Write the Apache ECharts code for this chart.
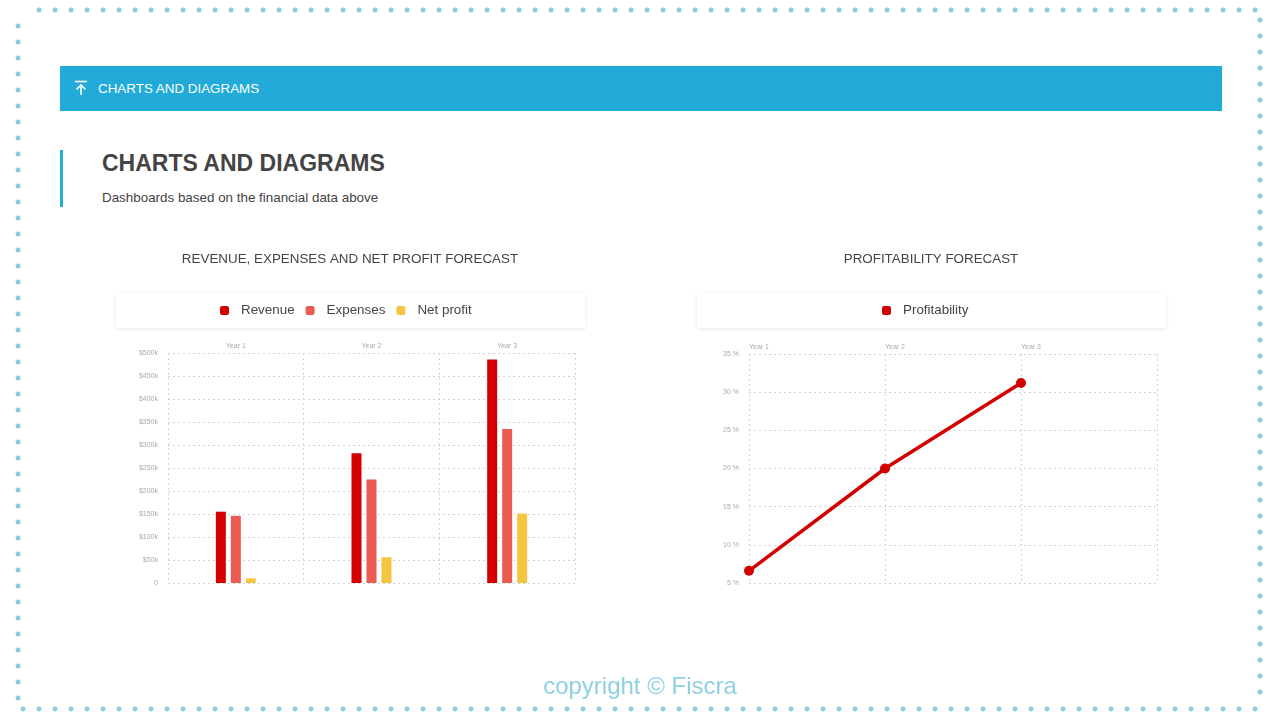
<!DOCTYPE html>
<html>
<head>
<meta charset="utf-8">
<script src="https://cdn.jsdelivr.net/npm/echarts@6/dist/echarts.min.js"></script>
<style>
  html, body { margin: 0; padding: 0; background: #fff; }
  body { width: 1280px; height: 720px; position: relative; overflow: hidden;
         font-family: "Liberation Sans", Arial, Helvetica, sans-serif; }
  .dots-h { position: absolute; height: 6px;
            background: radial-gradient(circle, #8fcbe0 2.2px, rgba(255,255,255,0) 2.8px);
            background-size: 16px 6px; }
  .dots-v { position: absolute; width: 6px;
            background: radial-gradient(circle, #8fcbe0 2.2px, rgba(255,255,255,0) 2.8px);
            background-size: 6px 16px; }
  .topbar { position: absolute; left: 60px; top: 66px; width: 1162px; height: 45px;
            background: #22aad9; color: #fff; font-size: 13.4px; }
  .topbar span { position: absolute; left: 38px; top: 15px; }
  .topbar svg { position: absolute; left: 14px; top: 14px; }
  .section-bar { position: absolute; left: 60px; top: 150px; width: 3px; height: 57px; background: #22aad9; }
  .section-title { position: absolute; left: 102px; top: 150px; font-size: 23px; font-weight: bold; color: #444; }
  .section-sub { position: absolute; left: 102px; top: 190px; font-size: 13.4px; color: #444; }
  .legend-box { position: absolute; height: 35px; top: 293px; background: #fff;
                box-shadow: 0 1px 4px rgba(0,0,0,0.10); }
  .copyright { position: absolute; left: 0; width: 1280px; top: 672px; text-align: center;
               font-size: 24px; color: #8fd0e2; }
  #chart { position: absolute; left: 0; top: 0; width: 1280px; height: 720px; }
</style>
</head>
<body>
<div class="dots-h" style="left:31px; top:7px; width:1232px;"></div>
<div class="dots-h" style="left:15px; top:706px; width:1248px;"></div>
<div class="dots-v" style="left:15px; top:18px; height:688px;"></div>
<div class="dots-v" style="left:1257px; top:12px; height:694px;"></div>

<div class="topbar">
  <svg width="14" height="16" viewBox="0 0 14 16">
    <line x1="1" y1="1.5" x2="13" y2="1.5" stroke="#fff" stroke-width="1.6"/>
    <line x1="7" y1="5" x2="7" y2="15" stroke="#fff" stroke-width="1.6"/>
    <polyline points="2.5,9.5 7,5 11.5,9.5" fill="none" stroke="#fff" stroke-width="1.6"/>
  </svg>
  <span>CHARTS AND DIAGRAMS</span>
</div>
<div class="section-bar"></div>
<div class="section-title">CHARTS AND DIAGRAMS</div>
<div class="section-sub">Dashboards based on the financial data above</div>

<div class="legend-box" style="left:116px; width:469px;"></div>
<div class="legend-box" style="left:697px; width:469px;"></div>

<div id="chart"></div>

<div class="copyright">copyright © Fiscra</div>

<script>
// bar chart data (USD)
var years = ['Year 1', 'Year 2', 'Year 3'];
var revenue = [155000, 282000, 486000];
var expenses = [146000, 225000, 335000];
var netProfit = [10000, 56000, 151000];

// line chart data (%)
var lineYears = ['Year 1', 'Year 2', 'Year 3', ''];
var profitability = [6.6, 20, 31.2];

var font = '"Liberation Sans", Arial, Helvetica, sans-serif';
var gridLine = { show: true, lineStyle: { color: '#d4d4d4', type: [2, 3], width: 1 } };
var tinyLabel = { color: '#aaa', fontSize: 7, fontFamily: font };
var legendText = { fontSize: 13.4, color: '#444', fontFamily: font, padding: [0, 0, 0, 7] };
var titleText = { fontSize: 13.4, fontWeight: 'normal', color: '#444', fontFamily: font };

var chart = echarts.init(document.getElementById('chart'), null, { renderer: 'canvas' });

chart.setOption({
  backgroundColor: 'transparent',
  animation: false,
  textStyle: { fontFamily: font },
  title: [
    { text: 'REVENUE, EXPENSES AND NET PROFIT FORECAST', left: 345, top: 248, textAlign: 'center',
      textStyle: titleText },
    { text: 'PROFITABILITY FORECAST', left: 926, top: 248, textAlign: 'center',
      textStyle: titleText }
  ],
  legend: [
    { data: ['Revenue', 'Expenses', 'Net profit'], left: 215, top: 299,
      icon: 'roundRect', itemWidth: 9, itemHeight: 9, itemGap: 11,
      textStyle: legendText },
    { data: ['Profitability'], left: 877, top: 299, icon: 'roundRect',
      itemWidth: 9, itemHeight: 9, textStyle: legendText }
  ],
  grid: [
    { left: 168, right: 705, top: 353, bottom: 137 },
    { left: 749, right: 123, top: 354, bottom: 137 }
  ],
  xAxis: [
    { type: 'category', gridIndex: 0, data: years, position: 'top',
      axisLine: { show: false }, axisTick: { show: false },
      axisLabel: Object.assign({ margin: 3 }, tinyLabel),
      splitLine: gridLine },
    { type: 'category', gridIndex: 1, data: lineYears, position: 'top', boundaryGap: false,
      axisLine: { show: false }, axisTick: { show: false },
      axisLabel: Object.assign({ margin: 3, align: 'left' }, tinyLabel),
      splitLine: gridLine }
  ],
  yAxis: [
    { type: 'value', gridIndex: 0, min: 0, max: 500000, interval: 50000,
      axisLine: { show: false }, axisTick: { show: false },
      axisLabel: Object.assign({ margin: 10, formatter: function (v) {
        return v === 0 ? '0' : '$' + (v / 1000) + 'k';
      } }, tinyLabel),
      splitLine: gridLine },
    { type: 'value', gridIndex: 1, min: 5, max: 35, interval: 5,
      axisLine: { show: false }, axisTick: { show: false },
      axisLabel: Object.assign({ margin: 10, formatter: '{value} %' }, tinyLabel),
      splitLine: gridLine }
  ],
  series: [
    { name: 'Revenue', type: 'bar', xAxisIndex: 0, yAxisIndex: 0, data: revenue,
      barWidth: 10, barGap: '50%', itemStyle: { color: '#d40000' } },
    { name: 'Expenses', type: 'bar', xAxisIndex: 0, yAxisIndex: 0, data: expenses,
      barWidth: 10, barGap: '50%', itemStyle: { color: '#ec5b52' } },
    { name: 'Net profit', type: 'bar', xAxisIndex: 0, yAxisIndex: 0, data: netProfit,
      barWidth: 10, barGap: '50%', itemStyle: { color: '#f5c542' } },
    { name: 'Profitability', type: 'line', xAxisIndex: 1, yAxisIndex: 1, data: profitability,
      symbol: 'circle', symbolSize: 10, lineStyle: { color: '#d40000', width: 3.5 },
      itemStyle: { color: '#d40000' } }
  ]
});
</script>
</body>
</html>
